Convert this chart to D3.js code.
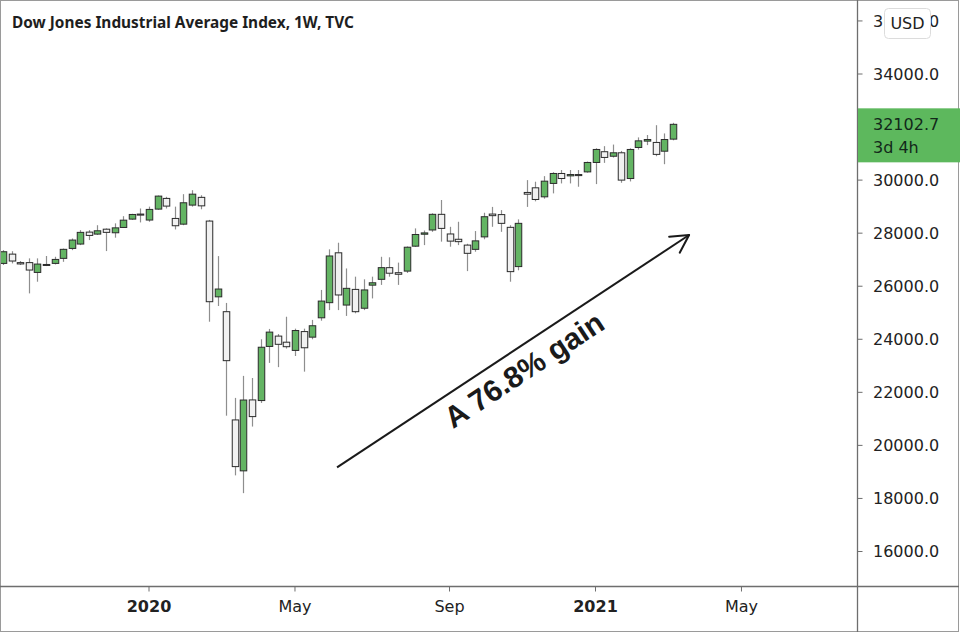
<!DOCTYPE html>
<html><head><meta charset="utf-8">
<script src="https://cdn.jsdelivr.net/npm/d3@7"></script>
<style>body{margin:0;background:#fff}svg{display:block}</style>
</head><body><svg id="c" width="960" height="634"></svg>
<script>
// ---- data (weekly candles, first week starts 2019-09-09) ----
const firstWeek = "2019-09-09";
const opens  = [26860,27210,26890,26890,26520,26820,26860,27050,27425,27590,28040,27965,28150,28015,28215,28530,28720,28495,28907,29310,28555,28340,29058,29350,28456,25600,25040,20960,19040,21714,21690,23730,24120,23890,23580,24290,24080,24810,25380,27260,25290,25880,25170,26040,26260,26700,26510,26570,27510,27960,28120,28710,27970,27770,27550,27390,27860,28720,28700,28220,26740,29535,29710,29370,29875,30250,30160,30210,30310,30665,31070,30900,31030,30060,31230,31470,31420,31090,31545];
const highs  = [27360,27320,26950,27050,27050,27140,27110,27420,27800,28115,28115,28300,28180,28370,28640,28730,28930,29000,29420,29370,29000,29470,29620,29430,28500,27136,25370,21790,22620,22540,24000,24390,24200,24850,24400,24400,24730,25860,27390,27640,26670,26360,26260,26360,27110,27090,26890,27500,28180,28100,28750,29250,28240,28430,27600,28080,28770,28990,28870,28300,28520,30000,29940,30150,30300,30380,30380,30380,30700,31200,31280,31340,31100,31200,31610,31700,32070,31760,32160];
const lows   = [26800,26860,26800,25730,26170,26760,26820,26920,27360,27550,27740,27930,27325,27830,28200,28500,28405,28430,28880,28930,28140,28300,29000,28900,24662,25254,21120,18870,18200,20710,21600,23110,22950,23650,23370,22780,24000,24700,25100,25100,24880,24980,25100,25540,26050,26360,26050,26500,27480,27550,28050,27680,27490,27550,26570,27300,27770,28240,28050,26170,26600,28990,29200,29300,29500,29875,29875,29750,30280,29850,30650,30850,29900,29950,31150,31320,30900,30600,31500];
const closes = [27300,26950,26840,26610,26835,26790,27010,27390,27740,28030,27915,28090,28030,28200,28490,28705,28680,28895,29397,29020,28280,29146,29470,29030,25416,25894,23194,19200,21710,21085,23700,24270,23810,23720,24330,23680,24510,25440,27140,25670,25920,25040,25860,26130,26700,26490,26450,27470,27950,28010,28710,28180,27700,27680,27240,27710,28620,28660,28370,26550,28370,29470,29270,29960,30250,30060,30210,30170,30665,31155,30855,31030,30000,31155,31480,31530,30970,31530,32102.7];
const priceTicks = [16000,18000,20000,22000,24000,26000,28000,30000,32000,34000,36000];
const monthTickDates  = ["2020-01-01","2020-05-01","2020-09-01","2021-01-01","2021-05-01"];
const monthTickLabels = ["2020","May","Sep","2021","May"];
const monthTickIsYear = [true,false,false,true,false];
const lastPrice = 32102.7;
const countdown = "3d 4h";
const title = "Dow Jones Industrial Average Index, 1W, TVC";
const arrowStart = [38.9, 19170];   // [bar index, price]
const arrowEnd   = [79.9, 27930];
const annotation = "A 76.8% gain";

// ---- layout ----
const plotR = 857.5, plotB = 586.5;
const svg = d3.select("#c");

const t0 = new Date(firstWeek + "T00:00:00Z");
const barOf = s => Math.ceil((new Date(s + "T00:00:00Z") - t0) / (7 * 864e5));

const x = d3.scaleLinear().domain([barOf("2020-01-01"), barOf("2021-01-01")]).range([149, 595.5]);
const y = d3.scaleLinear().domain([16000, 34000]).range([551.5, 74]);

const candles = opens.map((o, i) => ({i, o, h: highs[i], l: lows[i], c: closes[i]}));

const GREEN = "#63b463", LIGHT = "#f1f1f1", EDGE = "#2b2b2b", WICK = "#8e8e8e";

svg.append("defs").append("clipPath").attr("id", "plot")
  .append("rect").attr("x", 0).attr("y", 0).attr("width", plotR).attr("height", plotB);

const g = svg.append("g").attr("clip-path", "url(#plot)");

// wicks
g.selectAll("line.wick").data(candles).join("line")
  .attr("class", "wick")
  .attr("x1", d => Math.round(x(d.i)) + 0.5).attr("x2", d => Math.round(x(d.i)) + 0.5)
  .attr("y1", d => y(d.h)).attr("y2", d => y(d.l))
  .attr("stroke", WICK).attr("stroke-width", 1.2);

// bodies
const bw = 6.5;
g.selectAll("rect.body").data(candles).join("rect")
  .attr("class", "body")
  .attr("x", d => Math.round(x(d.i)) + 0.5 - bw / 2)
  .attr("y", d => y(Math.max(d.o, d.c)))
  .attr("width", bw)
  .attr("height", d => Math.max(1, Math.abs(y(d.o) - y(d.c))))
  .attr("fill", d => d.c >= d.o ? GREEN : LIGHT)
  .attr("stroke", EDGE).attr("stroke-width", 1);

// arrow annotation
const ax1 = x(arrowStart[0]), ay1 = y(arrowStart[1]);
const ax2 = x(arrowEnd[0]), ay2 = y(arrowEnd[1]);
g.append("line").attr("x1", ax1).attr("y1", ay1).attr("x2", ax2).attr("y2", ay2)
  .attr("stroke", "#1a1a1a").attr("stroke-width", 2);
const ang = Math.atan2(ay2 - ay1, ax2 - ax1);
const headLen = 20, spread = 0.5;
[ang + Math.PI - spread, ang + Math.PI + spread].forEach(a => {
  g.append("line").attr("x1", ax2).attr("y1", ay2)
    .attr("x2", ax2 + headLen * Math.cos(a)).attr("y2", ay2 + headLen * Math.sin(a))
    .attr("stroke", "#1a1a1a").attr("stroke-width", 2).attr("stroke-linecap", "round");
});
const mx = (ax1 + ax2) / 2, my = (ay1 + ay2) / 2;
g.append("text")
  .attr("transform", `translate(${mx},${my}) rotate(${ang * 180 / Math.PI})`)
  .attr("x", -1).attr("y", 32)
  .attr("text-anchor", "middle")
  .attr("font-family", "Liberation Sans, Arial, sans-serif")
  .attr("font-weight", "bold").attr("font-size", 30)
  .attr("fill", "#1a1a1a")
  .text(annotation);

// title
svg.append("text").attr("x", 12).attr("y", 28)
  .attr("font-family", "Noto Sans, sans-serif").attr("font-weight", "bold")
  .attr("font-size", 15.4).attr("fill", "#1e1e1e").text(title);

// frame lines
svg.append("rect").attr("x", 0.5).attr("y", 0.5).attr("width", 958).attr("height", 631)
  .attr("fill", "none").attr("stroke", "#9a9a9a");
svg.append("line").attr("x1", plotR).attr("x2", plotR).attr("y1", 0).attr("y2", 632)
  .attr("stroke", "#6e6e6e").attr("stroke-width", 1.3);
svg.append("line").attr("x1", 0).attr("x2", 959).attr("y1", plotB).attr("y2", plotB)
  .attr("stroke", "#6e6e6e").attr("stroke-width", 1.3);

// right price axis (labels under the last-price tag are hidden, as in TradingView)
const fmt = d3.format(".1f");
const ly = y(lastPrice);
const tagTop = ly - 16, tagBot = ly + 38;
const pa = svg.append("g");
priceTicks.forEach(v => {
  const yy = y(v);
  pa.append("line").attr("x1", plotR).attr("x2", plotR + 5).attr("y1", yy).attr("y2", yy)
    .attr("stroke", "#6e6e6e");
  if (yy > tagTop - 6 && yy < tagBot + 6) return;
  pa.append("text").attr("x", 873).attr("y", yy).attr("dy", "0.36em")
    .attr("font-family", "DejaVu Sans, sans-serif").attr("font-size", 16)
    .attr("fill", "#222").text(fmt(v));
});

// USD box over top label
svg.append("rect").attr("x", 884.5).attr("y", 8.5).attr("width", 46).attr("height", 30).attr("rx", 4)
  .attr("fill", "#fff").attr("stroke", "#dcdcdc");
svg.append("text").attr("x", 907.5).attr("y", 23.5).attr("dy", "0.36em").attr("text-anchor", "middle")
  .attr("font-family", "DejaVu Sans, sans-serif").attr("font-size", 16).attr("fill", "#222").text("USD");

// last price label
svg.append("rect").attr("x", plotR + 0.5).attr("y", tagTop).attr("width", 102).attr("height", tagBot - tagTop)
  .attr("fill", "#5db85d");
svg.append("text").attr("x", 873).attr("y", ly).attr("dy", "0.36em")
  .attr("font-family", "DejaVu Sans, sans-serif").attr("font-size", 16).attr("fill", "#12281a")
  .text(fmt(lastPrice));
svg.append("text").attr("x", 873).attr("y", ly + 23).attr("dy", "0.36em")
  .attr("font-family", "DejaVu Sans, sans-serif").attr("font-size", 16).attr("fill", "#12281a")
  .text(countdown);

// bottom time axis
monthTickDates.forEach((d, k) => {
  const xx = x(barOf(d));
  svg.append("line").attr("x1", xx).attr("x2", xx).attr("y1", plotB).attr("y2", plotB + 5)
    .attr("stroke", "#6e6e6e");
  svg.append("text").attr("x", xx).attr("y", 606).attr("dy", "0.36em").attr("text-anchor", "middle")
    .attr("font-family", "DejaVu Sans, sans-serif").attr("font-size", 16)
    .attr("font-weight", monthTickIsYear[k] ? "bold" : "normal")
    .attr("fill", "#222").text(monthTickLabels[k]);
});
</script></body></html>
